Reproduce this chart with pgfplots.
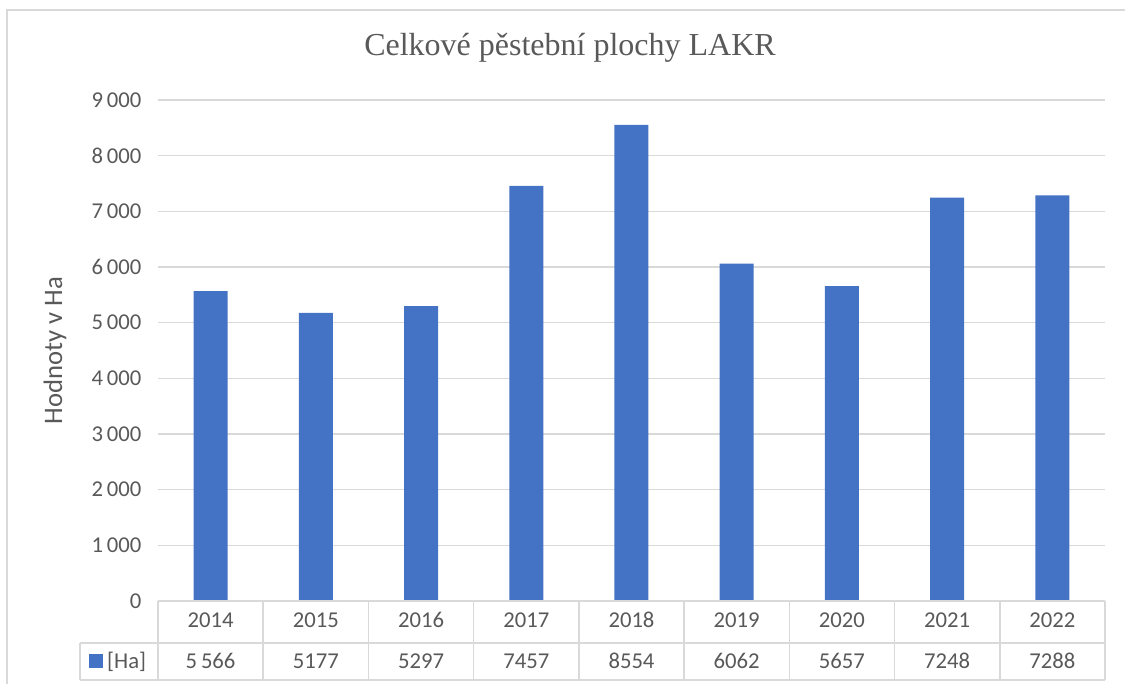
\documentclass[border=0pt]{standalone}
\usepackage{pgfplots}
\pgfplotsset{compat=1.18}
\usepackage{fontspec}
\setmainfont{Carlito}
\newfontfamily\titlefont{Liberation Serif}
\definecolor{barblue}{HTML}{4472C4}
\definecolor{txtgray}{HTML}{595959}
\definecolor{gridgray}{HTML}{D9D9D9}
\begin{document}
\begin{tikzpicture}[x=0.75pt,y=0.75pt]
\useasboundingbox (0,0) rectangle (1125,684);
% outer chart frame
\draw[gridgray,line width=1.1pt] (7,-10) -- (7,674) -- (1140,674);
\begin{axis}[
  at={(118.5pt,62.25pt)}, anchor=south west,
  scale only axis, width=710.25pt, height=375.75pt,
  xmin=-0.5, xmax=8.5, ymin=0, ymax=9000,
  ytick={0,1000,...,9000},
  xtick={0,...,8},
  xticklabels={2014,2015,2016,2017,2018,2019,2020,2021,2022},
  extra x ticks={0,...,8},
  extra x tick labels={5\,566,5177,5297,7457,8554,6062,5657,7248,7288},
  extra x tick style={grid=none, xticklabel style={yshift=-30.75pt}},
  xticklabel style={anchor=center, yshift=-14.25pt},
  ymajorgrids, major grid style={gridgray, line width=1.1pt},
  axis line style={draw=none}, tick style={draw=none},
  /pgf/number format/assume math mode=true,
  /pgf/number format/1000 sep={\,},
  ticklabel style={font=\fontsize{17}{20}\selectfont, text=txtgray},
  yticklabel style={xshift=-9pt},
  ylabel={Hodnoty v Ha},
  ylabel style={at={(axis description cs:-0.1088,0.5)}, anchor=center, font=\fontsize{20}{24}\selectfont, text=txtgray},
  legend style={at={(axis description cs:-0.0729,-0.12)}, anchor=west, draw=none, fill=none,
    font=\fontsize{17}{20}\selectfont, text=txtgray, inner sep=0pt,
    /tikz/every even column/.style={column sep=0pt},
    legend image code/.code={\fill[barblue] (0pt,-5.25pt) rectangle (10.5pt,5.25pt);}},
  legend cell align=left,
]
\addplot[ybar, bar width=25.5pt, fill=barblue, draw=none] coordinates {
(0,5566) (1,5177) (2,5297) (3,7457) (4,8554) (5,6062) (6,5657) (7,7248) (8,7288)};
\addlegendentry{\hspace*{1pt}[Ha]}
\end{axis}
% data table lines
\begin{scope}[gridgray, line width=1.1pt]
\draw (158,83) -- (1105,83);
\draw (80,41) -- (1105,41);
\draw (80,4) -- (1105,4);
\draw (80,41) -- (80,4);
\foreach \k in {0,...,9} { \draw ({158+105.222*\k},83) -- ({158+105.222*\k},4); }
\end{scope}
\node[text=txtgray, font=\titlefont\fontsize{24}{28}\selectfont] at (570,636) {Celkové pěstební plochy LAKR};
\end{tikzpicture}
\end{document}
